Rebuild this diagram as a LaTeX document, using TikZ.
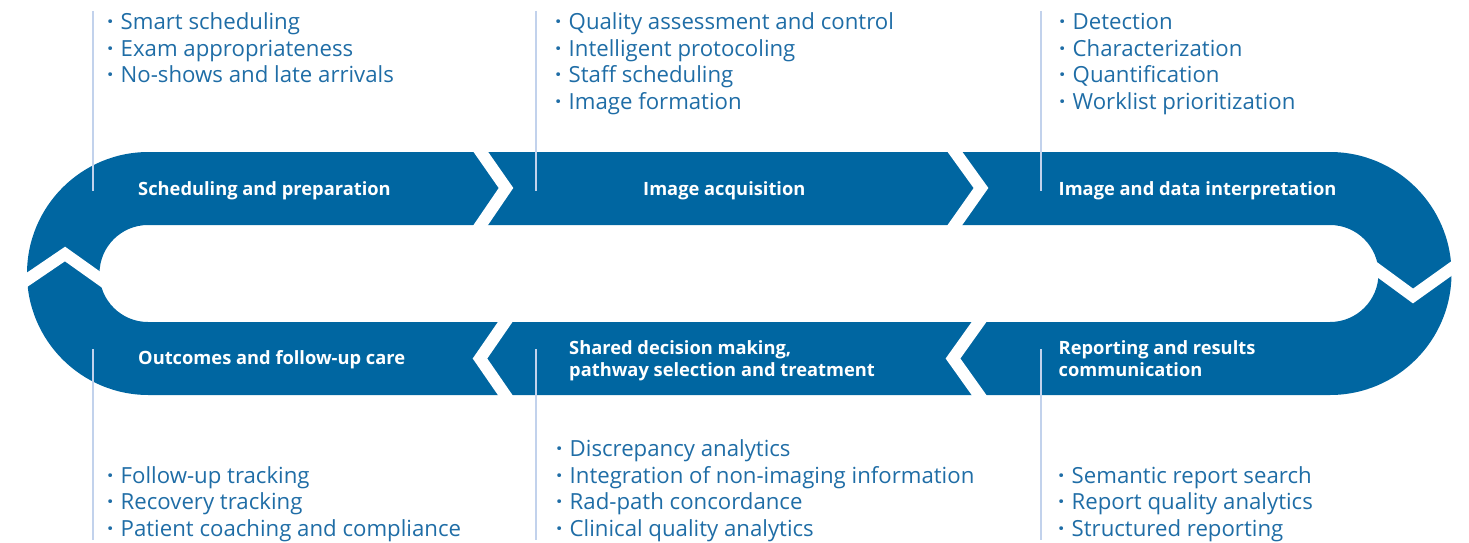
\documentclass[tikz,border=0pt]{standalone}
\usepackage{fontspec}
\setmainfont{Open Sans}
\definecolor{band}{HTML}{0066A1}
\definecolor{txt}{HTML}{1F6DA6}
\definecolor{vline}{HTML}{C2D2EC}
\newcommand{\bl}[1]{\makebox[0pt]{\bfseries ·}\hspace{10.5pt}#1}
\begin{document}
\begin{tikzpicture}[x=1pt,y=-1pt,
  gapline/.style={draw=white,line width=12pt,line join=miter},
  sepline/.style={draw=vline,line width=2.2pt},
  lab/.style={text=white,font=\bfseries\fontsize{18.3}{22}\selectfont,anchor=base west,inner sep=0pt},
  items/.style={text=txt,font=\fontsize{22.2}{26.5}\selectfont,anchor=base west,inner sep=0pt}]
\useasboundingbox (0,0) rectangle (1469,543);
% ring
\fill[band,even odd rule] [rounded corners=121.5pt] (27,152) rectangle (1451.5,395)
  [rounded corners=48.5pt] (99.5,225) rectangle (1378.5,322);
% white chevron gaps
\draw[gapline] (476,145) -- (506,188) -- (476,232);
\draw[gapline] (950,145) -- (981,188) -- (950,232);
\draw[gapline] (510,315) -- (480,358.5) -- (510,402);
\draw[gapline] (984,315) -- (953,358.5) -- (984,402);
\draw[gapline] (15,288) -- (65,254) -- (110,286);
\draw[gapline] (1368,263) -- (1413,296) -- (1462,261);
% separator lines
\coordinate (l1a) at (93,11);   \coordinate (l1b) at (93,191);
\coordinate (l2a) at (536,11);  \coordinate (l2b) at (536,191);
\coordinate (l3a) at (1041,11); \coordinate (l3b) at (1041,191);
\coordinate (l4a) at (93,349);  \coordinate (l4b) at (93,540);
\coordinate (l5a) at (536,349); \coordinate (l5b) at (536,540);
\coordinate (l6a) at (1041,349);\coordinate (l6b) at (1041,540);
\draw[sepline] (l1a) -- (l1b);
\draw[sepline] (l2a) -- (l2b);
\draw[sepline] (l3a) -- (l3b);
\draw[sepline] (l4a) -- (l4b);
\draw[sepline] (l5a) -- (l5b);
\draw[sepline] (l6a) -- (l6b);
% band labels
\node[lab] (s1) at (138,195) {Scheduling and preparation};
\node[lab] (s2) at (643,195) {Image acquisition};
\node[lab] (s3) at (1058.5,195) {Image and data interpretation};
\node[lab] (s6) at (138,364.5) {Outcomes and follow-up care};
\node[lab] (s5) at (569,354.5) {\begin{tabular}[t]{@{}l@{}}Shared decision making,\\ pathway selection and treatment\end{tabular}};
\node[lab] (s4) at (1058.5,354.5) {\begin{tabular}[t]{@{}l@{}}Reporting and results\\ communication\end{tabular}};
% item lists
\node[items] (i1) at (110,30) {\begin{tabular}[t]{@{}l@{}}\bl{Smart scheduling}\\ \bl{Exam appropriateness}\\ \bl{No-shows and late arrivals}\end{tabular}};
\node[items] (i2) at (558,30) {\begin{tabular}[t]{@{}l@{}}\bl{Quality assessment and control}\\ \bl{Intelligent protocoling}\\ \bl{Staff scheduling}\\ \bl{Image formation}\end{tabular}};
\node[items] (i3) at (1062,30) {\begin{tabular}[t]{@{}l@{}}\bl{Detection}\\ \bl{Characterization}\\ \bl{Quantification}\\ \bl{Worklist prioritization}\end{tabular}};
\node[items] (i6) at (110,536) {\begin{tabular}[b]{@{}l@{}}\bl{Follow-up tracking}\\ \bl{Recovery tracking}\\ \bl{Patient coaching and compliance}\end{tabular}};
\node[items] (i5) at (559,536) {\begin{tabular}[b]{@{}l@{}}\bl{Discrepancy analytics}\\ \bl{Integration of non-imaging information}\\ \bl{Rad-path concordance}\\ \bl{Clinical quality analytics}\end{tabular}};
\node[items] (i4) at (1061,536) {\begin{tabular}[b]{@{}l@{}}\bl{Semantic report search}\\ \bl{Report quality analytics}\\ \bl{Structured reporting}\end{tabular}};
\end{tikzpicture}
\end{document}
